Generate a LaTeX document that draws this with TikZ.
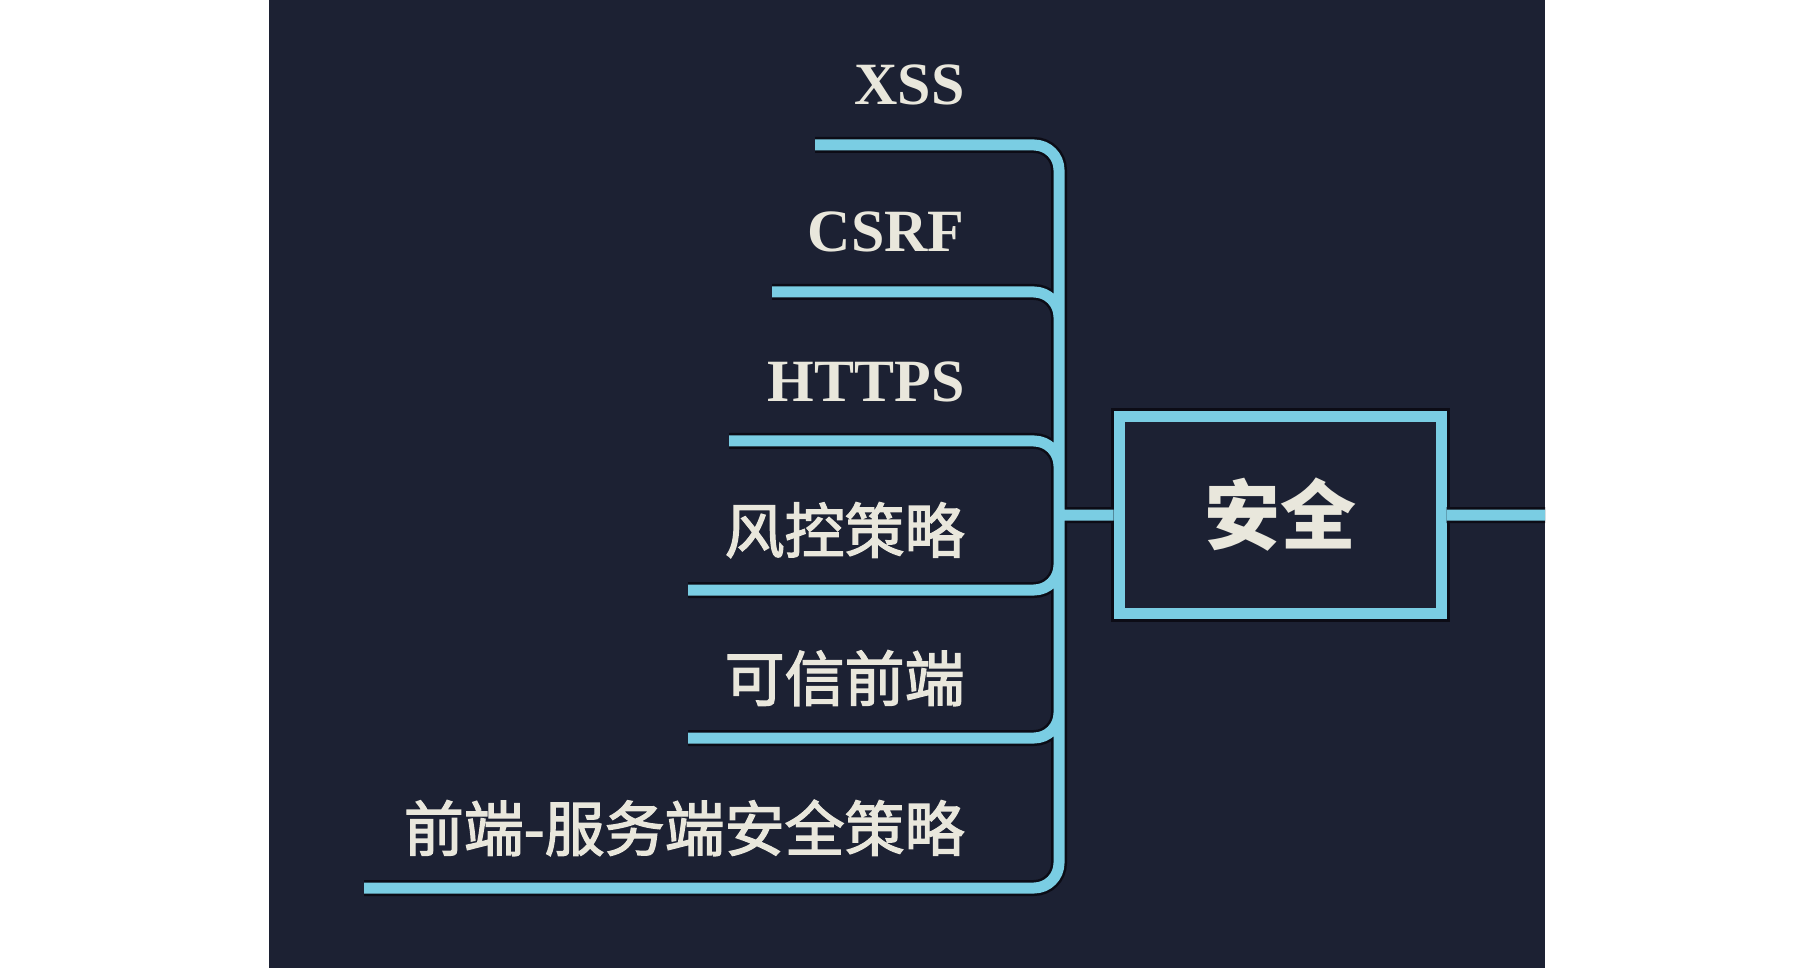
\documentclass[tikz,border=0pt]{standalone}
\usepackage{fontspec}
\setmainfont{Liberation Serif}
\newfontfamily\cjk{Noto Sans CJK SC}
\newfontfamily\cjkmid{Noto Sans CJK SC}[FakeBold=2.2]
\definecolor{bgcol}{HTML}{1C2133}
\definecolor{linecol}{HTML}{7ACDE3}
\definecolor{rimcol}{HTML}{0C0C16}
\definecolor{textcol}{HTML}{E9E7DC}
\tikzset{
  branch/.style={draw=linecol, line width=5.5pt, rounded corners=12.5pt,
    preaction={draw=rimcol, line width=8pt}},
  topic/.style={anchor=base east, inner sep=0pt, text=textcol,
    font=\bfseries\fontsize{30}{36}\selectfont},
  cjktopic/.style={topic, font=\cjkmid\fontsize{30}{36}\selectfont},
  rootbox/.style={draw=linecol, fill=bgcol, line width=5.5pt,
    minimum width=161pt, minimum height=98.5pt, text=textcol,
    font=\cjk\bfseries\fontsize{38}{44}\selectfont,
    preaction={draw=rimcol, line width=8.5pt}},
}
\begin{document}
\begin{tikzpicture}[x=0.5pt, y=-0.5pt]
\fill[white] (0,0) rectangle (1806,968);
\useasboundingbox (0,0) rectangle (1806,968);
\fill[bgcol] (269,0) rectangle (1545,968);

\coordinate (hub) at (1059,515);
\coordinate (edge) at (1545,515);

% line ends on the left
\coordinate (xssL) at (815,145);
\coordinate (csrfL) at (772,292);
\coordinate (httpsL) at (729,441);
\coordinate (fengkongL) at (688,590);
\coordinate (kexinL) at (688,738);
\coordinate (qianhouL) at (364,888);

\node[rootbox] (anquan) at (1280,515) {安全};

% one path, so the rim goes under all the lines
\draw[branch] (hub) -- (hub |- xssL) -- (xssL)
  (hub) -- (hub |- csrfL) -- (csrfL)
  (hub) -- (hub |- httpsL) -- (httpsL)
  (hub) -- (hub |- fengkongL) -- (fengkongL)
  (hub) -- (hub |- kexinL) -- (kexinL)
  (hub) -- (hub |- qianhouL) -- (qianhouL)
  (hub) -- (anquan.west)
  (anquan.east) -- (edge);

\node[topic] (xss) at (965,105) {XSS};
\node[topic] (csrf) at (965,252) {CSRF};
\node[topic] (https) at (965,401) {HTTPS};
\node[cjktopic] (fengkong) at (965,553) {风控策略};
\node[cjktopic] (kexin) at (965,701) {可信前端};
\node[cjktopic] (qianhou) at (965,851) {前端-服务端安全策略};
\end{tikzpicture}
\end{document}
